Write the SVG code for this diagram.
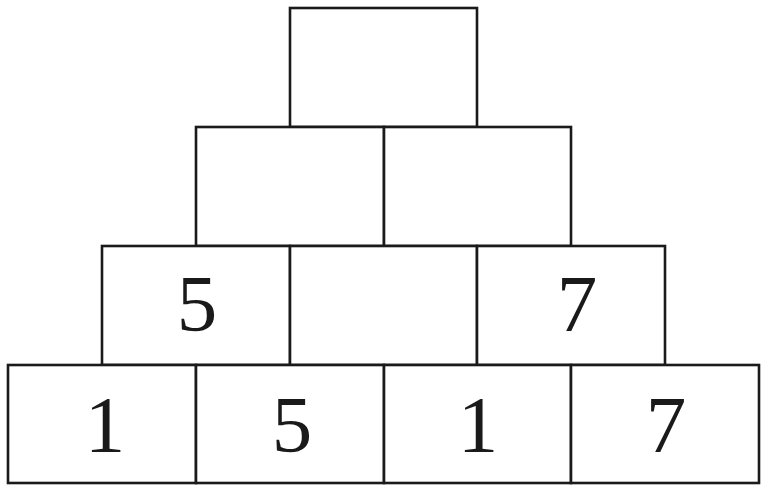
<svg xmlns="http://www.w3.org/2000/svg" width="767" height="492" viewBox="0 0 767 492">
<style>
.box{fill:#fff;stroke:#1a1a1a;stroke-width:2.6}
.num{font-family:"Liberation Serif","Times New Roman",serif;font-size:81px;fill:#1a1a1a;text-anchor:middle}
</style>
<rect width="767" height="492" fill="#fff"/>
<g id="r1c1"><rect class="box" x="290" y="8" width="187" height="119"/></g>
<g id="r2c1"><rect class="box" x="196" y="127" width="188" height="119"/></g>
<g id="r2c2"><rect class="box" x="384" y="127" width="187" height="119"/></g>
<g id="r3c1"><rect class="box" x="102" y="246" width="188" height="119"/><text class="num" x="197" y="331">5</text></g>
<g id="r3c2"><rect class="box" x="290" y="246" width="187" height="119"/></g>
<g id="r3c3"><rect class="box" x="477" y="246" width="188" height="119"/><text class="num" x="577" y="331">7</text></g>
<g id="r4c1"><rect class="box" x="8" y="365" width="188" height="118"/><text class="num" x="105" y="452">1</text></g>
<g id="r4c2"><rect class="box" x="196" y="365" width="188" height="118"/><text class="num" x="292" y="452">5</text></g>
<g id="r4c3"><rect class="box" x="384" y="365" width="187" height="118"/><text class="num" x="478" y="452">1</text></g>
<g id="r4c4"><rect class="box" x="571" y="365" width="188" height="118"/><text class="num" x="666" y="452">7</text></g>
<g id="connectors"></g>
</svg>
